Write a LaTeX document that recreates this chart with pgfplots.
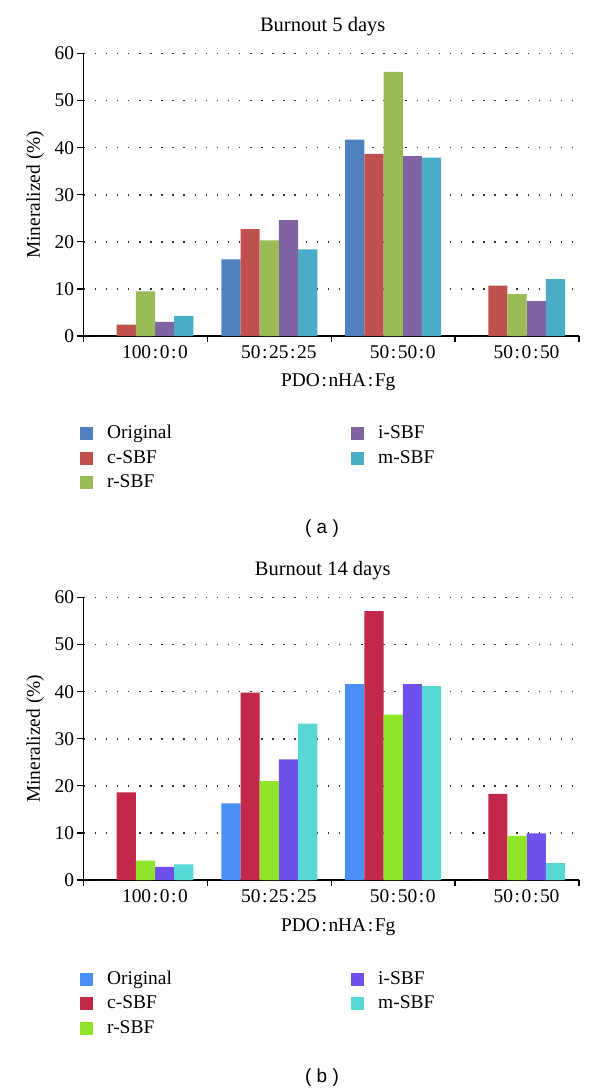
\documentclass[border=0pt]{standalone}
\usepackage{fontspec}
\setmainfont{Liberation Serif}
\newfontfamily\labelsans{Liberation Sans}
\usepackage{pgfplots}
\pgfplotsset{compat=1.18}

\definecolor{oA}{HTML}{4F81BD}
\definecolor{cA}{HTML}{C0504D}
\definecolor{rA}{HTML}{9BBB59}
\definecolor{iA}{HTML}{8064A2}
\definecolor{mA}{HTML}{4BACC6}
\definecolor{oB}{HTML}{498FF5}
\definecolor{cB}{HTML}{C2284A}
\definecolor{rB}{HTML}{92E42A}
\definecolor{iB}{HTML}{7050EA}
\definecolor{mB}{HTML}{58D8D4}

\newcommand{\rt}[3]{#1\kern1.6bp:\kern1.6bp#2\kern1.6bp:\kern1.6bp#3}

\pgfplotsset{
  panel/.style={
    scale only axis, width=495.5bp, height=282.5bp, anchor=south west,
    font=\fontsize{19.5}{23}\selectfont,
    xmin=-0.5, xmax=3.5, ymin=0, ymax=60,
    axis x line*=bottom, axis y line*=left,
    axis line style={line width=1.3bp, black, -},
    xtick={-0.5,0.5,1.5,2.5,3.5},
    x tick label as interval,
    xticklabels={\rt{100}{0}{0},\rt{50}{25}{25},\rt{50}{50}{0},\rt{50}{0}{50}},
    xticklabel style={xshift=9.5bp},
    ytick={0,10,20,30,40,50,60},
    tick align=outside, major tick length=6bp,
    tick style={line width=1.3bp, black},
    /pgf/number format/assume math mode=true,
    ymajorgrids,
    grid style={line width=1.5bp, black!80, dash pattern=on 1.5bp off 9.6bp},
    ybar, bar width=0.155,
    title style={at={(axis description cs:0.4828,1.0584)}, anchor=base, yshift=0pt, font=\fontsize{20.6}{24}\selectfont},
    xlabel style={at={(axis description cs:0.5141,-0.1805)}, anchor=base},
    ylabel style={at={(axis description cs:-0.0878,0.5)}, anchor=base},
    xlabel={PDO\kern1.6bp:\kern1.6bp nHA\kern1.6bp:\kern1.6bp Fg},
    ylabel={Mineralized (\%)},
    legend columns=2,
    legend cell align=left,
    legend style={draw=none, fill=none, inner sep=0bp,
      anchor=north west,
      nodes={text width=244bp, inner xsep=0bp, inner ysep=0bp, text height=14bp, text depth=4bp, align=left},
      /tikz/every odd column/.append style={column sep=14bp},
      row sep=6.5bp,
      font=\fontsize{19.5}{23}\selectfont},
    legend image code/.code={\path[#1] (0bp,-6.5bp) rectangle (13bp,6.5bp);},
  }
}

\pgfplotstableread{
x O c r i m
0 0 2.4 9.5 3.0 4.3
1 16.3 22.7 20.3 24.6 18.4
2 41.7 38.7 56.1 38.2 37.9
3 0 10.7 8.9 7.4 12.1
}\dataA
\pgfplotstableread{
x O c r i m
0 0 18.6 4.1 2.8 3.3
1 16.3 39.8 21.0 25.6 33.2
2 41.6 57.1 35.1 41.6 41.2
3 0 18.3 9.4 9.9 3.6
}\dataB

\begin{document}
\begin{tikzpicture}
\path[use as bounding box] (0bp,0bp) rectangle (600bp,-1091bp);

\begin{axis}[panel, at={(83.5bp,-336bp)}, title={Burnout 5 days},
  legend style={at={(axis description cs:-0.00706,-0.3133)}}]
\addplot[fill=oA, draw=none, bar shift=-0.31] table[x=x, y=O] {\dataA};
\addlegendentry{Original}
\addplot[fill=iA, draw=none, bar shift=0.155] table[x=x, y=i] {\dataA};
\addlegendentry{i-SBF}
\addplot[fill=cA, draw=none, bar shift=-0.155] table[x=x, y=c] {\dataA};
\addlegendentry{c-SBF}
\addplot[fill=mA, draw=none, bar shift=0.31] table[x=x, y=m] {\dataA};
\addlegendentry{m-SBF}
\addplot[fill=rA, draw=none, bar shift=0] table[x=x, y=r] {\dataA};
\addlegendentry{r-SBF}
\end{axis}

\begin{axis}[panel, at={(83.5bp,-880bp)}, title={Burnout 14 days},
  legend style={at={(axis description cs:-0.00706,-0.3186)}}]
\addplot[fill=oB, draw=none, bar shift=-0.31] table[x=x, y=O] {\dataB};
\addlegendentry{Original}
\addplot[fill=iB, draw=none, bar shift=0.155] table[x=x, y=i] {\dataB};
\addlegendentry{i-SBF}
\addplot[fill=cB, draw=none, bar shift=-0.155] table[x=x, y=c] {\dataB};
\addlegendentry{c-SBF}
\addplot[fill=mB, draw=none, bar shift=0.31] table[x=x, y=m] {\dataB};
\addlegendentry{m-SBF}
\addplot[fill=rB, draw=none, bar shift=0] table[x=x, y=r] {\dataB};
\addlegendentry{r-SBF}
\end{axis}

\node[font=\fontsize{19}{22}\selectfont\labelsans] at (322bp,-529bp) {( a )};
\node[font=\fontsize{19}{22}\selectfont\labelsans] at (322bp,-1078bp) {( b )};
\end{tikzpicture}
\end{document}
